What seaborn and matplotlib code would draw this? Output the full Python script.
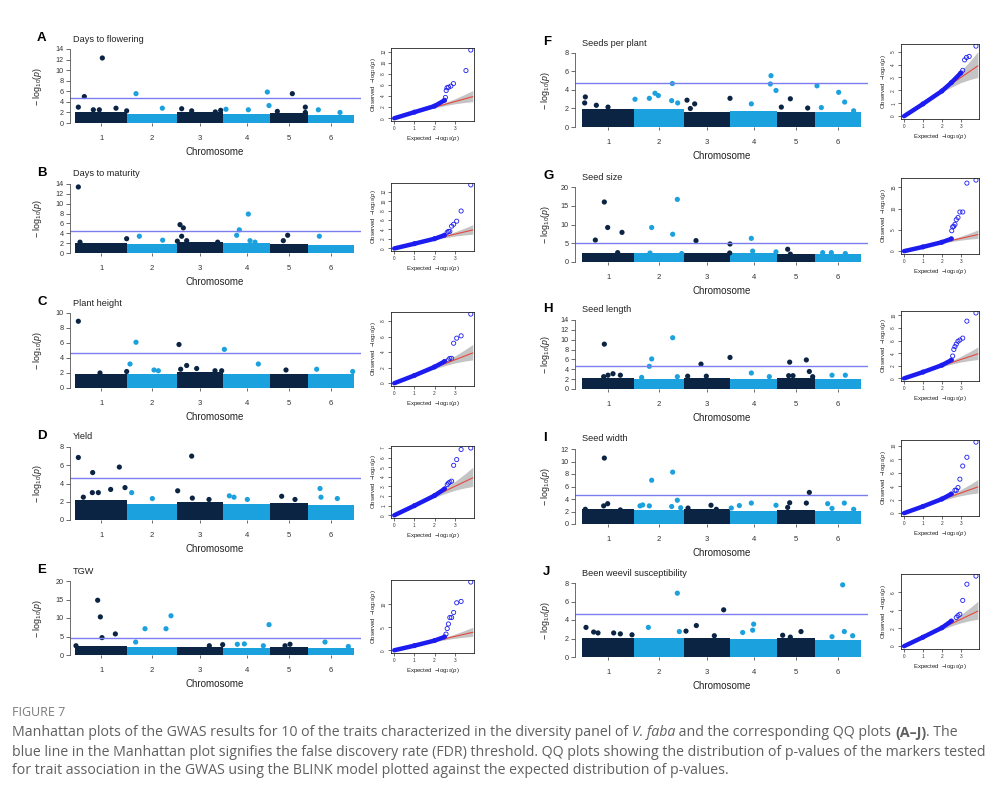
import numpy as np
import pandas as pd
import matplotlib
matplotlib.use("Agg")
import matplotlib.pyplot as plt
import seaborn as sns

# -----------------------------
# Chromosomes (relative lengths)
# -----------------------------
chrom_labels = ["1", "2", "3", "4", "5", "6"]
chrom_len = [157, 148, 140, 140, 115, 137]

# -----------------------------
# Manhattan data
# band = top of the dense cloud per chromosome
# hits = (chromosome, position, -log10 p) for points above the cloud
# -----------------------------
flowering_band = [2.1, 1.7, 2.0, 1.7, 1.8, 1.6]
flowering_fdr = 4.73
flowering_hits = [(1, 28, 5.0), (1, 82, 12.3), (2, 26, 5.55), (4, 132, 5.86), (4, 137, 3.3),
                  (5, 67, 5.55), (5, 106, 3.0), (5, 106, 2.0), (1, 10, 3.0), (1, 123, 2.8),
                  (1, 155, 2.3), (2, 105, 2.8), (3, 15, 2.7), (3, 45, 2.3), (3, 116, 2.1),
                  (3, 132, 2.4), (4, 8, 2.6), (4, 75, 2.5), (5, 22, 2.2), (6, 30, 2.5),
                  (6, 95, 2.0), (1, 73, 2.5), (1, 55, 2.5)]

maturity_band = [2.1, 1.9, 2.2, 2.0, 1.9, 1.7]
maturity_fdr = 4.5
maturity_hits = [(1, 10, 13.4), (3, 10, 5.75), (3, 20, 5.1), (3, 15, 3.4), (3, 2, 2.4),
                 (4, 75, 7.9), (4, 48, 4.7), (4, 40, 3.6), (5, 53, 3.6), (6, 33, 3.4),
                 (2, 36, 3.4), (1, 155, 2.9), (2, 106, 2.6), (3, 30, 2.5), (5, 40, 2.5),
                 (1, 15, 2.2), (3, 123, 2.2), (4, 95, 2.2), (4, 80, 2.5)]

height_band = [1.9, 1.9, 2.1, 1.8, 1.9, 1.9]
height_fdr = 4.7
height_hits = [(1, 10, 8.9), (2, 26, 6.1), (3, 7, 5.8), (4, 3, 5.15), (2, 8, 3.2),
               (4, 105, 3.2), (3, 30, 3.0), (3, 12, 2.5), (3, 60, 2.6), (3, 115, 2.3),
               (3, 135, 2.3), (2, 80, 2.4), (6, 25, 2.5), (6, 133, 2.2), (5, 48, 2.4),
               (1, 155, 2.2), (1, 75, 2.0), (2, 93, 2.3)]

yield_band = [2.2, 1.8, 2.0, 1.7, 1.9, 1.6]
yield_fdr = 4.65
yield_hits = [(1, 10, 6.85), (1, 53, 5.2), (1, 133, 5.8), (3, 45, 7.0), (3, 3, 3.2),
              (1, 150, 3.55), (1, 107, 3.35), (1, 52, 3.0), (1, 70, 3.0), (1, 25, 2.5),
              (2, 13, 3.0), (3, 47, 2.4), (3, 97, 2.25), (4, 18, 2.65), (4, 32, 2.5),
              (4, 72, 2.25), (5, 35, 2.6), (5, 75, 2.25), (6, 35, 3.45), (6, 38, 2.5),
              (6, 87, 2.35), (2, 75, 2.35)]

tgw_band = [2.3, 2.1, 2.1, 2.0, 2.1, 1.8]
tgw_fdr = 4.6
tgw_hits = [(1, 68, 14.8), (1, 76, 10.3), (1, 81, 4.7), (1, 121, 5.7), (2, 25, 3.5),
            (2, 53, 7.1), (2, 116, 7.1), (2, 131, 10.6), (4, 137, 8.2), (6, 50, 3.5),
            (4, 42, 2.9), (4, 63, 3.0), (4, 120, 2.5), (3, 98, 2.5), (3, 138, 2.8),
            (5, 45, 2.5), (5, 60, 2.9), (6, 120, 2.3), (1, 3, 2.5)]

seeds_band = [2.0, 1.9, 1.6, 1.7, 1.6, 1.6]
seeds_fdr = 4.75
seeds_hits = [(4, 122, 5.55), (4, 120, 4.65), (4, 137, 3.95), (2, 114, 4.7), (6, 5, 4.45),
              (6, 70, 3.75), (6, 88, 2.7), (2, 62, 3.65), (2, 72, 3.4), (2, 45, 3.1),
              (2, 2, 3.0), (2, 112, 2.85), (2, 130, 2.6), (1, 10, 3.25), (1, 8, 2.6),
              (1, 43, 2.35), (1, 78, 2.15), (3, 10, 2.9), (3, 33, 2.5), (3, 20, 2.0),
              (3, 139, 3.1), (4, 63, 2.5), (5, 13, 2.15), (5, 40, 3.05), (5, 92, 2.05),
              (6, 18, 2.1), (6, 115, 1.75)]

size_band = [2.3, 2.3, 2.3, 2.3, 2.1, 2.1]
size_fdr = 4.95
size_hits = [(1, 40, 5.85), (1, 67, 16.0), (1, 77, 9.2), (1, 120, 7.9), (1, 107, 2.5),
             (2, 52, 9.2), (2, 115, 7.4), (2, 129, 16.7), (3, 37, 5.7), (3, 139, 4.8),
             (3, 138, 2.4), (4, 63, 6.3), (4, 67, 2.9), (4, 137, 2.7), (5, 32, 3.4),
             (5, 40, 2.1), (6, 22, 2.5), (6, 48, 2.5), (6, 90, 2.25), (2, 47, 2.4),
             (2, 142, 2.25)]

length_band = [2.3, 2.0, 2.3, 2.0, 2.2, 2.0]
length_fdr = 4.6
length_hits = [(1, 67, 9.1), (2, 45, 4.6), (2, 52, 6.1), (2, 115, 10.4), (3, 52, 5.05),
               (3, 139, 6.4), (5, 38, 5.45), (5, 88, 5.9), (5, 97, 3.55), (4, 63, 3.25),
               (1, 93, 3.1), (1, 65, 2.5), (1, 78, 2.8), (1, 115, 2.8), (3, 68, 2.6),
               (3, 12, 2.6), (2, 129, 2.5), (6, 50, 2.8), (6, 90, 2.8), (5, 107, 2.5),
               (5, 35, 2.7), (5, 48, 2.7), (4, 117, 2.5), (2, 22, 2.35)]

width_band = [2.4, 2.2, 2.4, 2.1, 2.3, 2.1]
width_fdr = 4.65
width_hits = [(1, 67, 10.55), (2, 52, 7.0), (2, 115, 8.3), (5, 97, 5.05), (2, 129, 3.8),
              (1, 77, 3.25), (1, 65, 2.9), (2, 17, 2.9), (2, 25, 3.05), (2, 45, 2.9),
              (2, 112, 2.8), (2, 139, 2.6), (3, 13, 2.55), (3, 82, 3.0), (3, 98, 2.35),
              (4, 3, 2.55), (4, 63, 3.35), (4, 27, 2.95), (4, 137, 3.0), (5, 38, 3.4),
              (5, 88, 3.35), (5, 32, 2.65), (6, 37, 3.25), (6, 87, 3.35), (6, 50, 2.5),
              (6, 115, 2.35), (1, 10, 2.35), (1, 115, 2.25)]

weevil_band = [2.1, 2.1, 2.1, 1.9, 2.1, 1.8]
weevil_fdr = 4.7
weevil_hits = [(2, 129, 6.9), (3, 120, 5.1), (6, 82, 7.8), (1, 12, 3.2), (1, 35, 2.7),
               (1, 48, 2.6), (1, 95, 2.6), (1, 115, 2.5), (1, 150, 2.4), (2, 42, 3.2),
               (2, 135, 2.75), (3, 7, 2.8), (3, 38, 3.4), (3, 92, 2.3), (4, 70, 3.55),
               (4, 67, 2.9), (4, 37, 2.65), (5, 17, 2.35), (5, 72, 2.75), (5, 40, 2.15),
               (6, 87, 2.75), (6, 112, 2.3), (6, 50, 2.2)]

# -----------------------------
# QQ data: bulk of the markers (dense line) and the tail points
# -----------------------------
qq_band_x = [0, 1.0, 2.0, 2.5, 3.0, 3.5, 3.9]
qq_band_lo = [0, 0.95, 1.85, 2.25, 2.6, 2.85, 3.0]
qq_band_hi = [0, 1.05, 2.2, 2.8, 3.5, 4.3, 5.0]

flowering_bulk_x = [0, 1, 2, 2.5]
flowering_bulk_y = [0, 1.1, 2.2, 3.25]
flowering_tail_x = [2.54, 2.58, 2.62, 2.7, 2.81, 2.94, 3.56, 3.8]
flowering_tail_y = [3.75, 5.0, 5.5, 5.6, 5.8, 6.25, 8.6, 12.3]

maturity_bulk_x = [0, 1, 2, 2.5]
maturity_bulk_y = [0, 1.0, 2.05, 2.8]
maturity_tail_x = [2.63, 2.69, 2.76, 2.85, 2.95, 3.1, 3.32, 3.8]
maturity_tail_y = [3.4, 3.6, 3.6, 4.7, 5.1, 5.75, 7.9, 13.4]

height_bulk_x = [0, 1, 2, 2.5]
height_bulk_y = [0, 1.0, 2.1, 2.8]
height_tail_x = [2.69, 2.76, 2.85, 2.95, 3.1, 3.32, 3.8]
height_tail_y = [3.0, 3.2, 3.2, 5.15, 5.8, 6.1, 8.9]

yield_bulk_x = [0, 1, 2, 2.5]
yield_bulk_y = [0, 1.0, 2.05, 2.75]
yield_tail_x = [2.63, 2.69, 2.76, 2.85, 2.95, 3.1, 3.32, 3.8]
yield_tail_y = [3.2, 3.35, 3.45, 3.55, 5.2, 5.8, 6.85, 7.0]

tgw_bulk_x = [0, 1, 2, 2.5]
tgw_bulk_y = [0, 1.0, 2.1, 2.9]
tgw_tail_x = [2.57, 2.63, 2.69, 2.76, 2.85, 2.95, 3.1, 3.32, 3.8]
tgw_tail_y = [3.5, 4.7, 5.7, 7.1, 7.1, 8.2, 10.3, 10.6, 14.8]

seeds_bulk_x = [0, 1, 2, 2.5, 3.0]
seeds_bulk_y = [0, 0.95, 1.95, 2.6, 3.35]
seeds_tail_x = [3.1, 3.2, 3.3, 3.44, 3.8]
seeds_tail_y = [3.55, 4.36, 4.55, 4.63, 5.43]

size_bulk_x = [0, 1, 2, 2.5]
size_bulk_y = [0, 1.0, 2.1, 2.9]
size_tail_x = [2.52, 2.57, 2.63, 2.69, 2.76, 2.85, 2.95, 3.1, 3.32, 3.8]
size_tail_y = [4.8, 5.7, 5.85, 6.3, 7.4, 7.9, 9.2, 9.2, 16.0, 16.7]

length_bulk_x = [0, 1, 2, 2.5]
length_bulk_y = [0, 1.0, 2.1, 2.9]
length_tail_x = [2.57, 2.63, 2.69, 2.76, 2.85, 2.95, 3.1, 3.32, 3.8]
length_tail_y = [3.55, 4.6, 5.05, 5.45, 5.9, 6.1, 6.4, 9.1, 10.4]

width_bulk_x = [0, 1, 2, 2.5]
width_bulk_y = [0, 1.0, 2.1, 2.85]
width_tail_x = [2.69, 2.76, 2.85, 2.95, 3.1, 3.32, 3.8]
width_tail_y = [3.4, 3.4, 3.8, 5.05, 7.0, 8.3, 10.55]

weevil_bulk_x = [0, 1, 2, 2.5]
weevil_bulk_y = [0, 1.0, 2.05, 2.8]
weevil_tail_x = [2.76, 2.85, 2.95, 3.1, 3.32, 3.8]
weevil_tail_y = [3.2, 3.4, 3.55, 5.1, 6.9, 7.8]

# -----------------------------
# Caption
# -----------------------------
caption_label = "FIGURE 7"
caption_line1 = [("Manhattan plots of the GWAS results for 10 of the traits characterized in the diversity panel of ", "normal", "normal"),
                 ("V. faba", "italic", "normal"),
                 (" and the corresponding QQ plots ", "normal", "normal"),
                 ("(A\u2013J)", "normal", "bold"),
                 (". The", "normal", "normal")]
caption_line2 = "blue line in the Manhattan plot signifies the false discovery rate (FDR) threshold. QQ plots showing the distribution of p-values of the markers tested"
caption_line3 = "for trait association in the GWAS using the BLINK model plotted against the expected distribution of p-values."

W, H = 1007, 790
NAVY = "#0b2444"
LIGHT = "#1ba1dd"
FDR_COL = "#7d7df2"
QQ_BLUE = "#1c1cf0"
TXT = "#222222"


def px_rect(l, t, r, b):
    return [l / W, 1 - b / H, (r - l) / W, (b - t) / H]


def manhattan(ax, band, hits, fdr, ytop, ystep, xlim):
    offs = np.cumsum([0] + chrom_len[:-1])
    for i, L in enumerate(chrom_len):
        col = NAVY if i % 2 == 0 else LIGHT
        ax.fill_between([offs[i], offs[i] + L], 0, band[i], color=col, lw=0)
    df = pd.DataFrame(hits, columns=["chr", "pos", "logp"])
    df["x"] = offs[df["chr"].values - 1] + df["pos"].values
    df["group"] = np.where(df["chr"] % 2 == 1, "odd", "even")
    sns.scatterplot(data=df, x="x", y="logp", hue="group",
                    palette={"odd": NAVY, "even": LIGHT}, s=14, linewidth=0,
                    legend=False, ax=ax, clip_on=False)
    ax.axhline(fdr, color=FDR_COL, lw=1.0)
    ax.set_xlim(*xlim)
    ax.set_ylim(0, ytop)
    ax.set_yticks(np.arange(0, ytop + 0.01, ystep))
    centers = offs + np.array(chrom_len) / 2
    ax.set_xticks(centers)
    ax.set_xticklabels(chrom_labels)
    ax.set_xlabel("")
    ax.set_ylabel("")
    for s in ["top", "right", "bottom"]:
        ax.spines[s].set_visible(False)
    ax.spines["left"].set_bounds(0, ytop)
    ax.spines["left"].set_linewidth(0.6)
    ax.spines["left"].set_color("#555555")
    ax.tick_params(axis="y", left=True, length=3, width=0.6, colors="#555555",
                   labelsize=5.2, pad=1.5, labelcolor="#333333")
    ax.tick_params(axis="x", bottom=True, length=2.5, width=0.6, colors="#555555",
                   labelsize=5.5, pad=6, labelcolor="#333333")
    ax.patch.set_alpha(0)


def qq(ax, bulk_x, bulk_y, tail_x, tail_y, ystep):
    ymax = max(tail_y)
    ax.fill_between(qq_band_x, qq_band_lo, qq_band_hi, color="#c4c4c4", lw=0)
    ax.plot([0, 3.9], [0, 3.9], color="#e8473f", lw=0.8)
    sns.lineplot(x=bulk_x, y=bulk_y, color=QQ_BLUE, lw=3.2, sort=False, ax=ax)
    ax.scatter(bulk_x[1:], bulk_y[1:], s=9, facecolors="none", edgecolors=QQ_BLUE, linewidths=0.6)
    ax.scatter(tail_x, tail_y, s=9, facecolors="none", edgecolors=QQ_BLUE, linewidths=0.6)
    ax.set_xlim(-0.16, 3.96)
    ax.set_ylim(-0.04 * ymax, 1.03 * ymax)
    ax.set_xticks([0, 1, 2, 3])
    ax.set_yticks(np.arange(0, ymax + 0.01, ystep))
    for s in ax.spines.values():
        s.set_visible(True)
        s.set_linewidth(0.6)
        s.set_color("#222222")
    ax.tick_params(axis="both", bottom=True, left=True, length=2, width=0.5,
                   labelsize=3.4, pad=1.5, colors="#333333")
    for lab in ax.get_yticklabels():
        lab.set_rotation(90)
        lab.set_va("center")
    ax.set_xlabel("Expected  \u2212log$_{10}$($p$)", fontsize=4.3, labelpad=2, color=TXT)
    ax.set_ylabel("Observed  \u2212log$_{10}$($p$)", fontsize=4.3, labelpad=2, color=TXT)


def draw_segments(fig, x_px, y_px, segments, size, color, family):
    renderer = fig.canvas.get_renderer()
    x = x_px
    for txt, style, weight in segments:
        kw = dict(fontsize=size, color=color, style=style, weight=weight, family=family)
        fig.text(x / W, 1 - y_px / H, txt, va="center", ha="left", **kw)
        probe = fig.text(0, 0, txt + "|", **kw)
        bar = fig.text(0, 0, "|", **kw)
        w = probe.get_window_extent(renderer).width - bar.get_window_extent(renderer).width
        probe.remove()
        bar.remove()
        x += w


def main():
    sns.set_style("white")
    plt.rcParams["font.family"] = ["Liberation Sans", "DejaVu Sans"]
    plt.rcParams["mathtext.fontset"] = "custom"
    plt.rcParams["mathtext.rm"] = "Liberation Sans"
    plt.rcParams["mathtext.it"] = "Liberation Sans:italic"

    fig = plt.figure(figsize=(W / 100, H / 100), dpi=100)
    fig.patch.set_facecolor("white")

    # -----------------------------
    # Panel table (built from the named arrays above)
    # -----------------------------
    panels = [
        # letter, title, column, top px, zero px, ytop, ystep, band, hits, fdr, qq...
        ("A", "Days to flowering", 0, 49, 123, 14, 2, flowering_band, flowering_hits, flowering_fdr,
         flowering_bulk_x, flowering_bulk_y, flowering_tail_x, flowering_tail_y, 2),
        ("B", "Days to maturity", 0, 184, 253, 14, 2, maturity_band, maturity_hits, maturity_fdr,
         maturity_bulk_x, maturity_bulk_y, maturity_tail_x, maturity_tail_y, 2),
        ("C", "Plant height", 0, 313, 388, 10, 2, height_band, height_hits, height_fdr,
         height_bulk_x, height_bulk_y, height_tail_x, height_tail_y, 2),
        ("D", "Yield", 0, 447, 520, 8, 2, yield_band, yield_hits, yield_fdr,
         yield_bulk_x, yield_bulk_y, yield_tail_x, yield_tail_y, 1),
        ("E", "TGW", 0, 581, 655, 20, 5, tgw_band, tgw_hits, tgw_fdr,
         tgw_bulk_x, tgw_bulk_y, tgw_tail_x, tgw_tail_y, 5),
        ("F", "Seeds per plant", 1, 53, 127, 8, 2, seeds_band, seeds_hits, seeds_fdr,
         seeds_bulk_x, seeds_bulk_y, seeds_tail_x, seeds_tail_y, 1),
        ("G", "Seed size", 1, 187, 262, 20, 5, size_band, size_hits, size_fdr,
         size_bulk_x, size_bulk_y, size_tail_x, size_tail_y, 5),
        ("H", "Seed length", 1, 320, 389, 14, 2, length_band, length_hits, length_fdr,
         length_bulk_x, length_bulk_y, length_tail_x, length_tail_y, 2),
        ("I", "Seed width", 1, 449, 524, 12, 2, width_band, width_hits, width_fdr,
         width_bulk_x, width_bulk_y, width_tail_x, width_tail_y, 2),
        ("J", "Been weevil susceptibility", 1, 583, 657, 8, 2, weevil_band, weevil_hits, weevil_fdr,
         weevil_bulk_x, weevil_bulk_y, weevil_tail_x, weevil_tail_y, 2),
    ]

    # column geometry in pixels
    cols = [
        dict(spine=70, data0=75, right=361, letter=37, title=73, ylab=38,
             qq_l=391, qq_r=474, qq_dt=-1, qq_db=-2),
        dict(spine=575, data0=582, right=868, letter=543, title=582, ylab=545,
             qq_l=901, qq_r=979, qq_dt=-9, qq_db=-8),
    ]

    for (letter, title, c, top, zero, ytop, ystep, band, hits, fdr,
         bx, by, tx, ty, qstep) in panels:
        g = cols[c]
        xlim = (-(g["data0"] - g["spine"]) * 3, (g["right"] - g["data0"]) * 3)
        ax = fig.add_axes(px_rect(g["spine"], top, g["right"], zero))
        manhattan(ax, band, hits, fdr, ytop, ystep, xlim)

        data_end = g["data0"] + sum(chrom_len) / 3
        fig.text(g["letter"] / W, 1 - (top - 11) / H, letter, fontsize=9.5,
                 weight="bold", color="black", va="center", ha="left")
        fig.text(g["title"] / W, 1 - (top - 10) / H, title, fontsize=6.6,
                 color=TXT, va="center", ha="left")
        fig.text(g["ylab"] / W, 1 - ((top + zero) / 2) / H,
                 "\u2212 log$_{10}$($p$)", fontsize=6.4, color=TXT,
                 rotation=90, va="center", ha="center")
        fig.text(((g["data0"] + data_end) / 2) / W, 1 - (zero + 29) / H,
                 "Chromosome", fontsize=7.0, color=TXT, va="center", ha="center")

        qax = fig.add_axes(px_rect(g["qq_l"], top + g["qq_dt"], g["qq_r"], zero + g["qq_db"]))
        qq(qax, bx, by, tx, ty, qstep)

    # -----------------------------
    # Caption
    # -----------------------------
    cap_font = ["Open Sans", "DejaVu Sans"]
    cap_col = "#5f5f5f"
    cap_size = 10.2
    fig.text(12 / W, 1 - 712 / H, caption_label, fontsize=9.0, color="#7a7a7a",
             family=cap_font, va="center", ha="left")
    draw_segments(fig, 12, 733, caption_line1, cap_size, cap_col, cap_font)
    fig.text(12 / W, 1 - 752 / H, caption_line2, fontsize=cap_size, color=cap_col,
             family=cap_font, va="center", ha="left")
    fig.text(12 / W, 1 - 770 / H, caption_line3, fontsize=cap_size, color=cap_col,
             family=cap_font, va="center", ha="left")

    fig.savefig("out.png", dpi=100, facecolor="white")
    plt.close(fig)


if __name__ == "__main__":
    main()
